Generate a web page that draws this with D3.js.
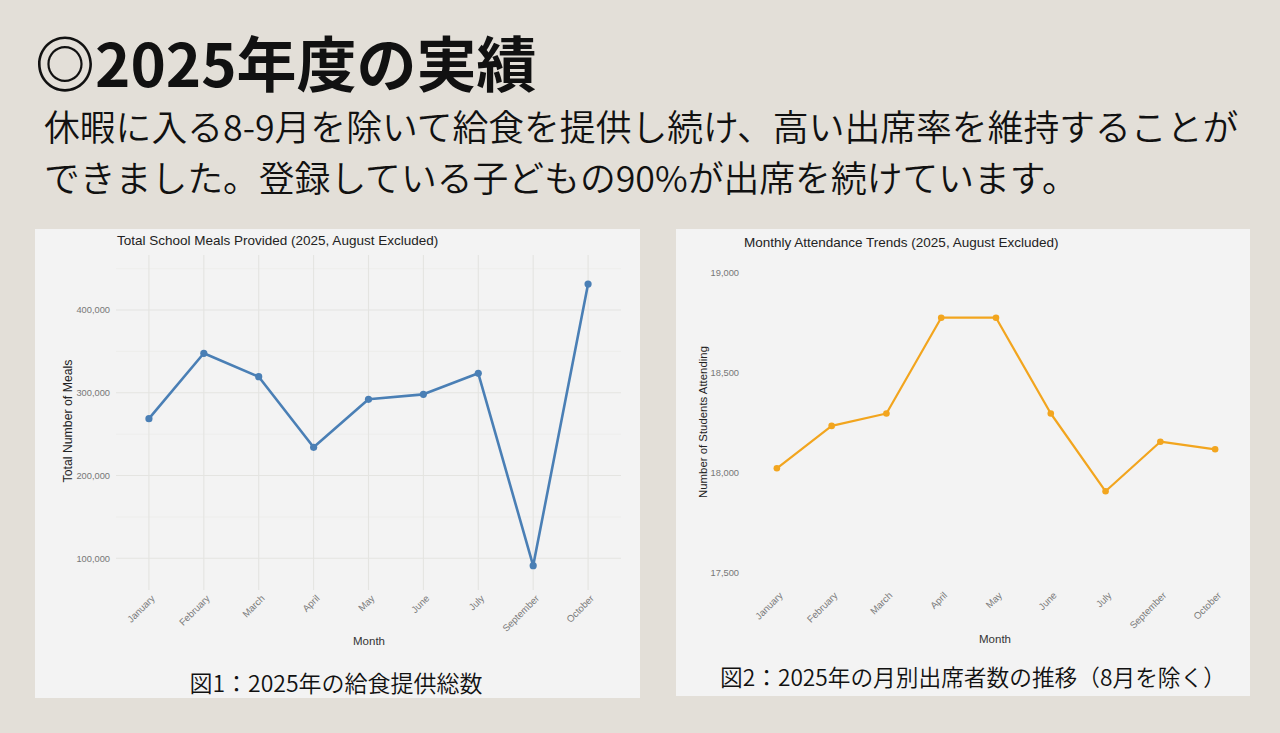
<!DOCTYPE html>
<html>
<head>
<meta charset="utf-8">
<script src="https://cdn.jsdelivr.net/npm/d3@7"></script>
<style>
  body { margin: 0; background: #e3dfd8; }
  svg { display: block; }
</style>
</head>
<body>
<div id="page"></div>
<script>
// month categories (August excluded)
const months = ["January", "February", "March", "April", "May", "June", "July", "September", "October"];
// figure 1: total school meals per month
const mealsTotal = [268700, 347700, 319400, 234100, 292100, 298100, 323500, 91100, 431400];
const mealsTicks = [100000, 200000, 300000, 400000];
const mealsMinor = [150000, 250000, 350000, 450000];
// figure 2: number of students attending per month
const attendance = [18022, 18234, 18296, 18775, 18775, 18296, 17907, 18155, 18117];
const attendTicks = [17500, 18000, 18500, 19000];

const headTitle = "◎2025年度の実績";
const headLines = ["休暇に入る8-9月を除いて給食を提供し続け、高い出席率を維持することが",
                   "できました。登録している子どもの90%が出席を続けています。"];

const jp = "'Noto Sans CJK JP', 'Noto Sans', sans-serif";
const latin = "'Liberation Sans', Arial, sans-serif";
const fmt = d3.format(",");

var svg = d3.select("#page")
    .append("svg")
    .attr("width", 1280)
    .attr("height", 733);

svg.append("rect").attr("width", 1280).attr("height", 733).attr("fill", "#e3dfd8");

// heading
svg.append("text")
    .attr("x", 35).attr("y", 87)
    .attr("font-family", jp).attr("font-weight", 700)
    .attr("font-size", "60px").attr("fill", "#111")
    .text(headTitle);

svg.selectAll(".headline")
    .data(headLines)
    .join("text")
    .attr("class", "headline")
    .attr("x", 44)
    .attr("y", (d, i) => 141 + i * 51)
    .attr("font-family", jp).attr("font-weight", 350)
    .attr("font-size", "35.8px").attr("fill", "#111")
    .text(d => d);

function makeLineChart(opt) {
    const g = svg.append("g").attr("transform", `translate(${opt.left},${opt.top})`);
    g.append("rect").attr("width", opt.width).attr("height", opt.height).attr("fill", "#f3f3f3");

    var x = d3.scalePoint()
        .domain(months)
        .range([opt.plot.left, opt.plot.right])
        .padding(0.6);

    var y = d3.scaleLinear()
        .domain(opt.yDomain)
        .range(opt.yRange);

    // grid
    if (opt.grid) {
        g.selectAll(".minor")
            .data(opt.minor.filter(v => y(v) > opt.plot.top && y(v) < opt.plot.bottom))
            .join("line")
            .attr("x1", opt.plot.left).attr("x2", opt.plot.right)
            .attr("y1", d => y(d)).attr("y2", d => y(d))
            .attr("stroke", "#ebebe8").attr("stroke-width", 0.7);
        g.selectAll(".hgrid")
            .data(opt.ticks)
            .join("line")
            .attr("x1", opt.plot.left).attr("x2", opt.plot.right)
            .attr("y1", d => y(d)).attr("y2", d => y(d))
            .attr("stroke", "#e4e4e1").attr("stroke-width", 1.1);
        g.selectAll(".vgrid")
            .data(months)
            .join("line")
            .attr("x1", d => x(d)).attr("x2", d => x(d))
            .attr("y1", opt.plot.top).attr("y2", opt.plot.bottom)
            .attr("stroke", "#e4e4e1").attr("stroke-width", 1.1);
    }

    // y axis
    var yAxis = g.append("g")
        .attr("transform", `translate(${opt.plot.left},0)`)
        .call(d3.axisLeft(y).tickValues(opt.ticks).tickFormat(fmt).tickSize(0).tickPadding(opt.yPad));
    yAxis.select(".domain").remove();
    yAxis.selectAll("text")
        .attr("font-family", latin).attr("font-size", "9.3px").attr("fill", "#777");

    // x axis
    var xAxis = g.append("g")
        .attr("transform", `translate(0,${opt.xLabelY})`)
        .call(d3.axisBottom(x).tickSize(0).tickPadding(0));
    xAxis.select(".domain").remove();
    xAxis.selectAll("text")
        .attr("font-family", latin).attr("font-size", "9.6px").attr("fill", "#7a7a7a")
        .attr("text-anchor", "end")
        .attr("dy", "0.3em")
        .attr("transform", "translate(4,0) rotate(-45)");

    // titles
    g.append("text")
        .attr("x", opt.titleX).attr("y", opt.titleY)
        .attr("font-family", latin).attr("font-size", "13.5px").attr("fill", "#222")
        .text(opt.title);
    g.append("text")
        .attr("x", opt.monthX).attr("y", opt.monthY)
        .attr("text-anchor", "middle")
        .attr("font-family", latin).attr("font-size", "11.5px").attr("fill", "#333")
        .text("Month");
    g.append("text")
        .attr("transform", `translate(${opt.yTitleX},${opt.yTitleY}) rotate(-90)`)
        .attr("text-anchor", "middle")
        .attr("font-family", latin).attr("font-size", opt.yTitleSize).attr("fill", "#222")
        .text(opt.yTitle);

    // line + points
    var pts = months.map((m, i) => [m, opt.values[i]]);
    g.append("path")
        .datum(pts)
        .attr("fill", "none")
        .attr("stroke", opt.color)
        .attr("stroke-width", opt.lineWidth)
        .attr("stroke-linejoin", "round")
        .attr("d", d3.line().x(d => x(d[0])).y(d => y(d[1])));
    g.selectAll(".pt")
        .data(pts)
        .join("circle")
        .attr("cx", d => x(d[0]))
        .attr("cy", d => y(d[1]))
        .attr("r", opt.r)
        .attr("fill", opt.color);

    // caption
    g.append("text")
        .attr("x", opt.capX).attr("y", opt.capY)
        .attr("text-anchor", "middle")
        .attr("font-family", jp).attr("font-weight", 350)
        .attr("font-size", opt.capSize).attr("fill", "#111")
        .text(opt.caption);
}

makeLineChart({
    left: 35, top: 229, width: 605, height: 469,
    plot: {left: 81, right: 586, top: 26, bottom: 361},
    yDomain: [100000, 400000], yRange: [329.3, 81],
    ticks: mealsTicks, minor: mealsMinor, grid: true, yPad: 6,
    xLabelY: 368,
    values: mealsTotal, color: "#4a7fb5", lineWidth: 2.6, r: 3.6,
    title: "Total School Meals Provided (2025, August Excluded)", titleX: 82, titleY: 16,
    monthX: 334, monthY: 416,
    yTitle: "Total Number of Meals", yTitleX: 37, yTitleY: 192, yTitleSize: "12.3px",
    caption: "図1：2025年の給食提供総数", capX: 301, capY: 463, capSize: "23px"
});

makeLineChart({
    left: 676, top: 229, width: 574, height: 467,
    plot: {left: 68, right: 572, top: 30, bottom: 350},
    yDomain: [18000, 19000], yRange: [243.7, 43.7],
    ticks: attendTicks, minor: [], grid: false, yPad: 5,
    xLabelY: 365,
    values: attendance, color: "#f2a51e", lineWidth: 2.2, r: 3.3,
    title: "Monthly Attendance Trends (2025, August Excluded)", titleX: 68, titleY: 18,
    monthX: 319, monthY: 414,
    yTitle: "Number of Students Attending", yTitleX: 31, yTitleY: 193, yTitleSize: "11.4px",
    caption: "図2：2025年の月別出席者数の推移（8月を除く）", capX: 297, capY: 457, capSize: "22.7px"
});
</script>
</body>
</html>
